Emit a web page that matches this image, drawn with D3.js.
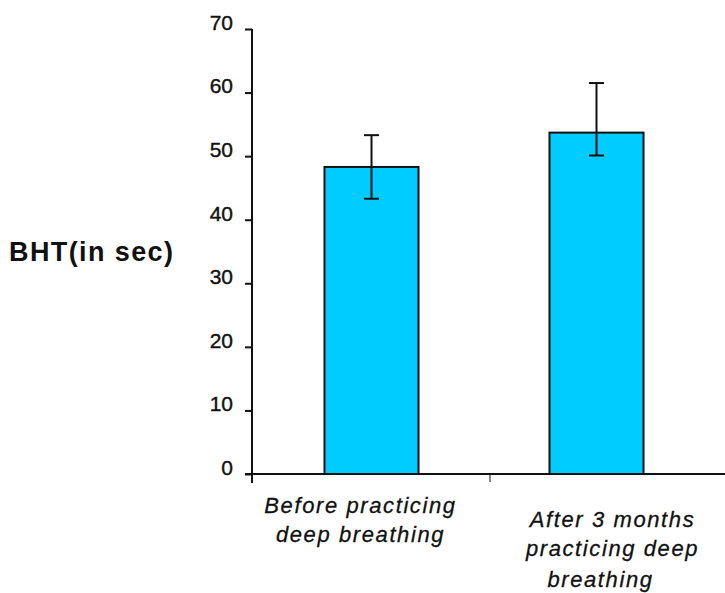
<!DOCTYPE html>
<html>
<head>
<meta charset="utf-8">
<script src="https://cdn.jsdelivr.net/npm/d3@7"></script>
<style>
  body { margin: 0; background: #fff; }
  svg { display: block; font-family: "Liberation Sans", Arial, sans-serif; }
</style>
</head>
<body>
<svg id="chart" width="725" height="593"></svg>
<script>
// BHT before / after deep breathing
const categories = [
  ['Before practicing', 'deep breathing'],
  ['After 3 months', 'practicing deep', 'breathing']
];
const means = [48.3, 53.7];
const errHigh = [53.3, 61.5];
const errLow = [43.3, 50.1];
const yTicks = [0, 10, 20, 30, 40, 50, 60, 70];

const svg = d3.select('#chart');
const keys = categories.map((c, i) => i);

const y = d3.scaleLinear().domain([0, 70]).range([474, 29]);
const x = d3.scaleBand().domain(keys).range([259, 709]).padding(0);
const barW = x.bandwidth() * 0.418;

// bars
svg.selectAll('rect.bar')
  .data(means)
  .join('rect')
  .attr('class', 'bar')
  .attr('x', (d, i) => x(i) + (x.bandwidth() - barW) / 2)
  .attr('y', d => y(d))
  .attr('width', barW)
  .attr('height', d => y(0) - y(d))
  .attr('fill', '#00ccff')
  .attr('stroke', '#111')
  .attr('stroke-width', 2);

// error bars
const cap = 7.5;
means.forEach((m, i) => {
  const cx = x(i) + x.bandwidth() / 2;
  const g = svg.append('g').attr('stroke', '#111').attr('stroke-width', 2);
  g.append('line').attr('x1', cx).attr('x2', cx).attr('y1', y(errLow[i])).attr('y2', y(errHigh[i]));
  g.append('line').attr('x1', cx - cap).attr('x2', cx + cap).attr('y1', y(errHigh[i])).attr('y2', y(errHigh[i]));
  g.append('line').attr('x1', cx - cap).attr('x2', cx + cap).attr('y1', y(errLow[i])).attr('y2', y(errLow[i]));
});

// y axis
const yAxis = svg.append('g')
  .attr('transform', 'translate(252,0)')
  .call(d3.axisLeft(y).tickValues(yTicks).tickSize(7).tickPadding(12));
yAxis.select('.domain').attr('d', `M0,${y(70)}V${y(0) + 9}`).attr('stroke', '#111').attr('stroke-width', 2);
yAxis.selectAll('.tick line').attr('stroke', '#111').attr('stroke-width', 2);
yAxis.selectAll('.tick text')
  .attr('font-size', 21)
  .attr('fill', '#111')
  .attr('stroke', '#111')
  .attr('stroke-width', 0.4)
  .attr('dy', '0.02em')
  .style('font-family', '"Liberation Sans", Arial, sans-serif');

// x axis line
const xg = svg.append('g').attr('stroke', '#111').attr('stroke-width', 2);
xg.append('line').attr('x1', 245).attr('x2', 725).attr('y1', y(0)).attr('y2', y(0));
// category boundary tick
xg.append('line')
  .attr('x1', x(1) + 6).attr('x2', x(1) + 6)
  .attr('y1', y(0)).attr('y2', y(0) + 8)
  .attr('stroke-width', 1);

// category labels
const labelY = [[513, 542], [527, 556, 587]];
const labelDx = [[0, 0], [0, 0, -12]];
categories.forEach((lines, i) => {
  const cx = x(i) + x.bandwidth() / 2;
  const t = svg.append('text')
    .attr('text-anchor', 'middle')
    .attr('font-size', 22)
    .attr('font-style', 'italic')
    .attr('letter-spacing', 1.6)
    .attr('fill', '#111')
    .attr('stroke', '#111')
    .attr('stroke-width', 0.3);
  lines.forEach((ln, j) => {
    t.append('tspan')
      .attr('x', cx + (i === 0 ? -11 : 16) + labelDx[i][j])
      .attr('y', labelY[i][j])
      .text(ln);
  });
});

// y axis title
svg.append('text')
  .attr('x', 9)
  .attr('y', 261)
  .attr('font-size', 27)
  .attr('font-weight', 'bold')
  .attr('letter-spacing', 1.4)
  .attr('fill', '#111')
  .text('BHT(in sec)');
</script>
</body>
</html>
